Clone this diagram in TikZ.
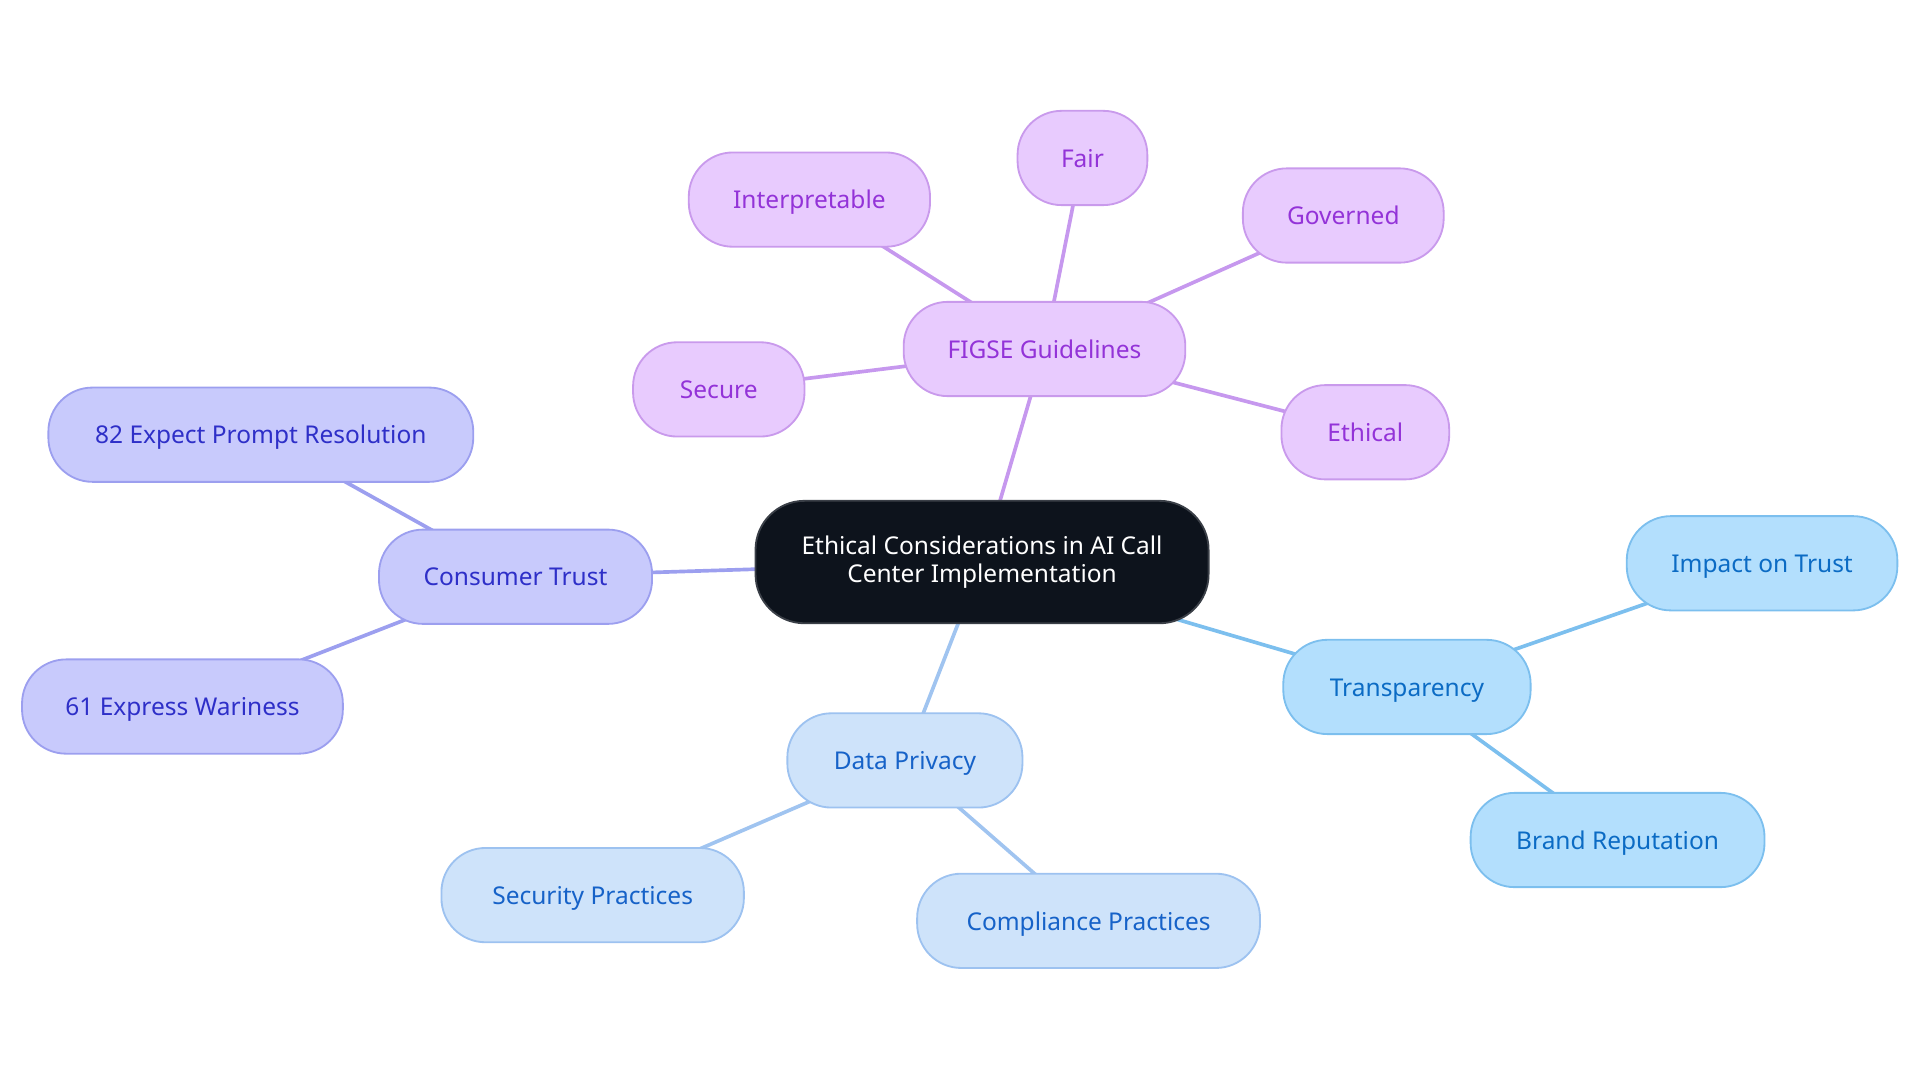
\documentclass[tikz,border=0pt]{standalone}
\usepackage{fontspec}
\setmainfont{Noto Sans}
\usetikzlibrary{backgrounds}
\definecolor{pfill}{HTML}{E8CBFE}
\definecolor{pdraw}{HTML}{C99AEC}
\definecolor{ptext}{HTML}{9333D8}
\definecolor{pedge}{HTML}{C698EE}
\definecolor{ifill}{HTML}{C8CAFC}
\definecolor{idraw}{HTML}{9C9FEF}
\definecolor{itext}{HTML}{2E2FC8}
\definecolor{iedge}{HTML}{9C9FEF}
\definecolor{dfill}{HTML}{CEE3FA}
\definecolor{ddraw}{HTML}{9DC2F0}
\definecolor{dtext}{HTML}{1662C8}
\definecolor{dedge}{HTML}{A0C4F0}
\definecolor{tfill}{HTML}{B3DFFD}
\definecolor{tdraw}{HTML}{7CBFEE}
\definecolor{ttext}{HTML}{0B6BC4}
\definecolor{tedge}{HTML}{7CBFEE}
\definecolor{cfill}{HTML}{0D131C}
\definecolor{cdraw}{HTML}{3A3F47}
\tikzset{
  box/.style={rounded corners=36pt, line width=1.5pt, minimum height=77pt,
    inner sep=0pt, align=center, font=\fontsize{20}{23}\selectfont},
  leaf/.style={box, text height=18pt, text depth=3pt},
  pbox/.style={leaf, fill=pfill, draw=pdraw, text=ptext},
  ibox/.style={leaf, fill=ifill, draw=idraw, text=itext},
  dbox/.style={leaf, fill=dfill, draw=ddraw, text=dtext},
  tbox/.style={leaf, fill=tfill, draw=tdraw, text=ttext},
  cbox/.style={box, fill=cfill, draw=cdraw, text=white, minimum height=100pt, rounded corners=40pt},
  edge/.style={line width=3pt},
}
\begin{document}
\begin{tikzpicture}[x=1pt,y=-1pt]
\useasboundingbox (0,0) rectangle (1568,884.4);
\node[cbox, minimum width=370pt] (c) at (802,459) {Ethical Considerations in AI Call\\Center Implementation};
\node[pbox, minimum width=230pt] (figse) at (853,285) {FIGSE Guidelines};
\node[pbox, minimum width=197pt] (interp) at (661,163) {Interpretable};
\node[pbox, minimum width=106pt] (fair) at (884,129) {Fair};
\node[pbox, minimum width=164pt] (gov) at (1097,176) {Governed};
\node[pbox, minimum width=140pt] (sec) at (587,318) {Secure};
\node[pbox, minimum width=137pt] (eth) at (1115,353) {Ethical};
\node[ibox, minimum width=223pt] (ct) at (421,471) {Consumer Trust};
\node[ibox, minimum width=347pt] (e82) at (213,355) {82 Expect Prompt Resolution};
\node[ibox, minimum width=262pt] (e61) at (149,577) {61 Express Wariness};
\node[dbox, minimum width=192pt] (dp) at (739,621) {Data Privacy};
\node[dbox, minimum width=247pt] (sp) at (484,731) {Security Practices};
\node[dbox, minimum width=280pt] (cp) at (889,752) {Compliance Practices};
\node[tbox, minimum width=202pt] (tr) at (1149,561) {Transparency};
\node[tbox, minimum width=221pt] (it) at (1439,460) {Impact on Trust};
\node[tbox, minimum width=240pt] (br) at (1321,686) {Brand Reputation};
\begin{pgfonlayer}{background}
\draw[edge, pedge] (c.center) -- (figse.center);
\draw[edge, pedge] (figse.center) -- (interp.center);
\draw[edge, pedge] (figse.center) -- (fair.center);
\draw[edge, pedge] (figse.center) -- (gov.center);
\draw[edge, pedge] (figse.center) -- (sec.center);
\draw[edge, pedge] (figse.center) -- (eth.center);
\draw[edge, iedge] (c.center) -- (ct.center);
\draw[edge, iedge] (ct.center) -- (e82.center);
\draw[edge, iedge] (ct.center) -- (e61.center);
\draw[edge, dedge] (c.center) -- (dp.center);
\draw[edge, dedge] (dp.center) -- (sp.center);
\draw[edge, dedge] (dp.center) -- (cp.center);
\draw[edge, tedge] (c.center) -- (tr.center);
\draw[edge, tedge] (tr.center) -- (it.center);
\draw[edge, tedge] (tr.center) -- (br.center);
\end{pgfonlayer}
\end{tikzpicture}
\end{document}
